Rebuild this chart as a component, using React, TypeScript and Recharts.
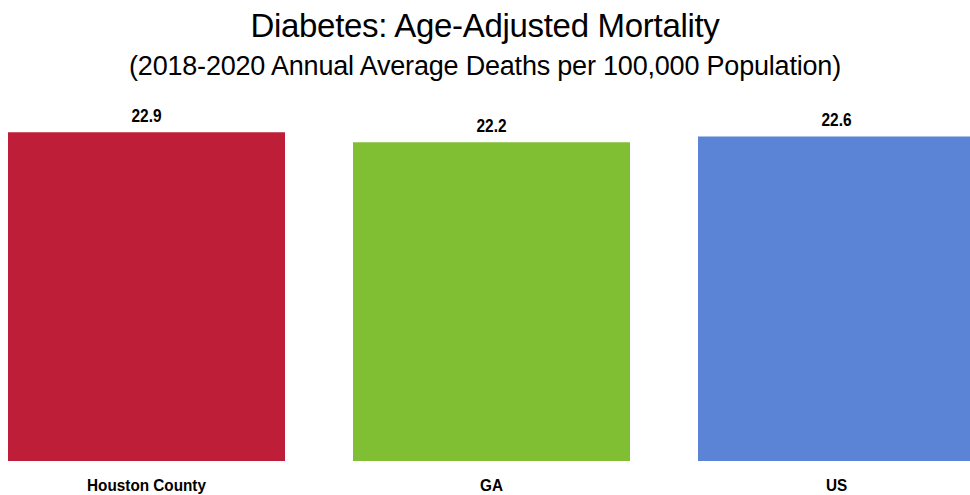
import { BarChart, Bar, XAxis, YAxis, Cell, LabelList } from "recharts";

const categories = ["Houston County", "GA", "US"];
const rates = [22.9, 22.2, 22.6];
const colors = ["#BE1E37", "#80BE33", "#5B84D6"];

const data = categories.map((name, i) => ({ name, rate: rates[i] }));

const font = '"Liberation Sans", Arial, sans-serif';

// the original uses a narrow bold face, so squeeze Liberation Sans a little
const NarrowTick = (props: any) => {
    const { x, y, payload } = props;
    return (
        <text transform={`translate(${x},${y + 30}) scale(0.9,1)`} textAnchor="middle" fill="#000" fontSize={17} fontWeight="bold" fontFamily={font}>
            {payload.value}
        </text>
    );
};

const ValueLabel = (props: any) => {
    const { x, y, width, value } = props;
    return (
        <text transform={`translate(${x + width / 2},${y - 10}) scale(0.86,1)`} textAnchor="middle" fill="#000" fontSize={18} fontWeight="bold" fontFamily={font}>
            {value}
        </text>
    );
};

export default function App() {
    return (
        <div style={{ position: "fixed", left: 0, top: 0, width: 970, height: 495, overflow: "hidden", background: "#fff", fontFamily: font }}>
            <div style={{ position: "absolute", left: 0, width: 970, top: 6, textAlign: "center", fontSize: 33, color: "#000", lineHeight: "40px", letterSpacing: -0.3 }}>
                Diabetes: Age-Adjusted Mortality
            </div>
            <div style={{ position: "absolute", left: 0, width: 970, top: 49, textAlign: "center", fontSize: 27, color: "#000", lineHeight: "34px", letterSpacing: -0.2 }}>
                (2018-2020 Annual Average Deaths per 100,000 Population)
            </div>
            <div style={{ position: "absolute", left: -26, top: 0 }}>
                <BarChart width={1035} height={495} data={data} margin={{ top: 102, right: 0, left: 0, bottom: 0 }} barCategoryGap={34}>
                    <XAxis
                        dataKey="name"
                        height={34}
                        axisLine={false}
                        tickLine={false}
                        tickSize={0}
                        tickMargin={0}
                        tick={<NarrowTick />}
                    />
                    <YAxis hide domain={[0, 25]} />
                    <Bar dataKey="rate" isAnimationActive={false}>
                        {data.map((d, i) => (
                            <Cell key={d.name} fill={colors[i]} />
                        ))}
                        <LabelList dataKey="rate" content={<ValueLabel />} />
                    </Bar>
                </BarChart>
            </div>
        </div>
    );
}
